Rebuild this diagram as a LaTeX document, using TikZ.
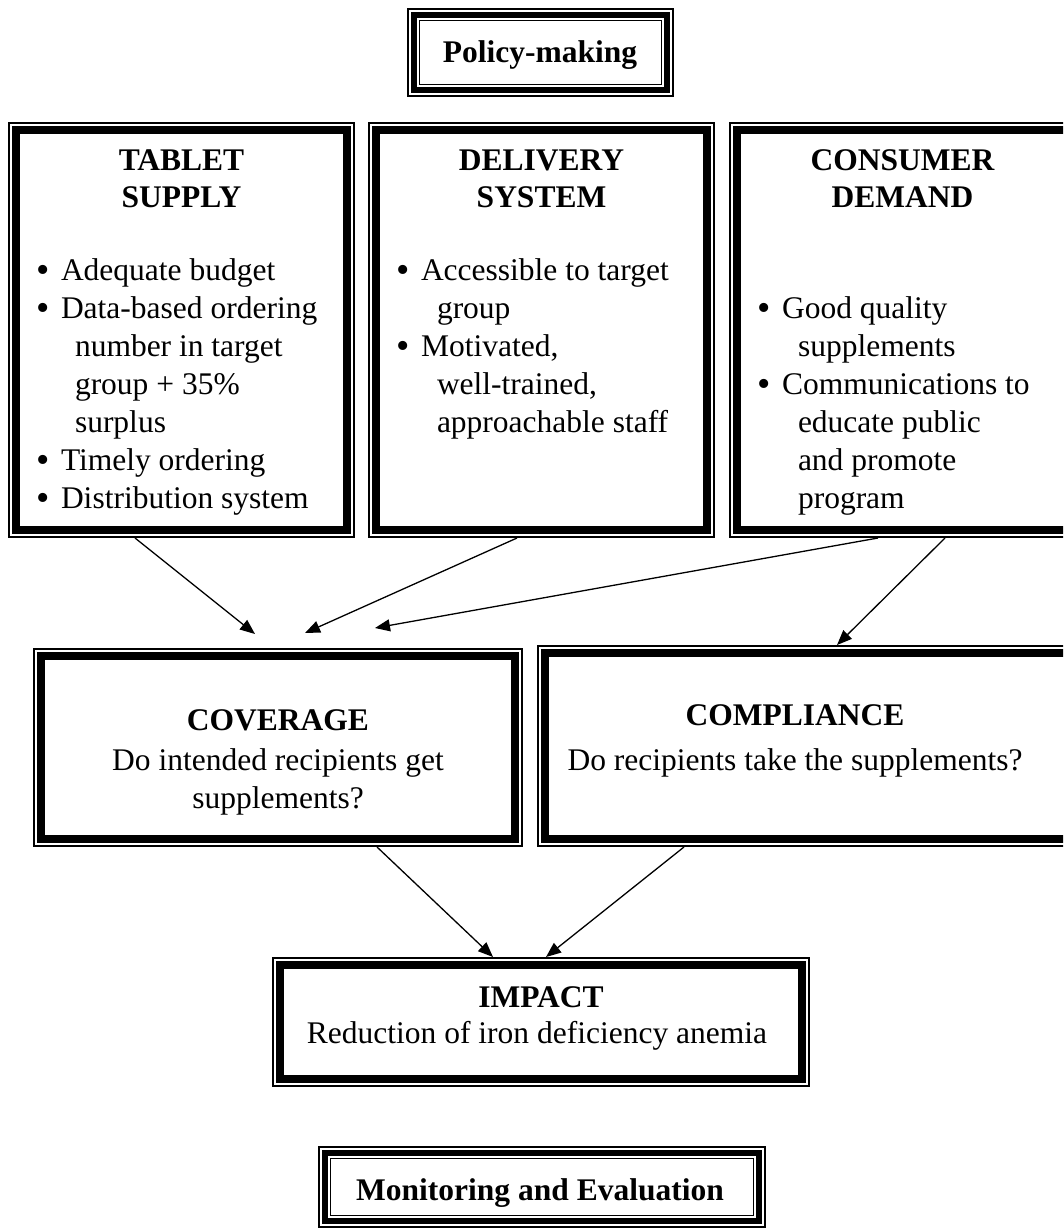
\documentclass[tikz,border=0pt]{standalone}
\usepackage{fontspec}
\setmainfont{Liberation Serif}
\usetikzlibrary{arrows.meta,calc}
\tikzset{
  txt/.style={inner sep=0pt, outer sep=0pt, font=\fontsize{31.5}{38}\selectfont},
  bld/.style={inner sep=0pt, outer sep=0pt, font=\fontsize{31.5}{38}\selectfont\bfseries},
  bul/.style={inner sep=0pt, outer sep=0pt, font=\fontsize{38}{38}\selectfont},
  conn/.style={line width=1.3pt, -{Triangle[length=15pt,width=12pt]}},
  frame/.style={inner sep=0pt, outer sep=0pt, anchor=north west},
}
% thin outer line + thick inner line
\newcommand{\thinthick}[5]{%
  \node[frame, minimum width={(#4-#2)*1pt}, minimum height={(#5-#3)*1pt}] (#1) at (#2,#3) {};
  \draw[line width=1.8pt] ([shift={(0.9,0.9)}]#1.north west) rectangle ([shift={(-0.9,-0.9)}]#1.south east);
  \draw[line width=8pt] ([shift={(8,8)}]#1.north west) rectangle ([shift={(-8,-8)}]#1.south east);
}
% thin, thick, thin
\newcommand{\triplebox}[5]{%
  \node[frame, minimum width={(#4-#2)*1pt}, minimum height={(#5-#3)*1pt}] (#1) at (#2,#3) {};
  \draw[line width=1.8pt] ([shift={(0.9,0.9)}]#1.north west) rectangle ([shift={(-0.9,-0.9)}]#1.south east);
  \draw[line width=5.5pt] ([shift={(6.8,6.8)}]#1.north west) rectangle ([shift={(-6.8,-6.8)}]#1.south east);
  \draw[line width=1.8pt] ([shift={(12.5,12.5)}]#1.north west) rectangle ([shift={(-12.5,-12.5)}]#1.south east);
}
\newcommand{\tline}[4]{\node[txt, anchor=base west] (#1) at (#2,#3) {#4};}
\newcommand{\bline}[3]{\node[bul, anchor=base west] (#1) at (#2,#3) {•};}
\newcommand{\ctext}[4]{\node[txt, anchor=base] (#1) at (#2,#3) {#4};}
\newcommand{\btext}[4]{\node[bld, anchor=base] (#1) at (#2,#3) {#4};}
\begin{document}
\begin{tikzpicture}[x=1pt,y=-1pt]
\useasboundingbox (0,0) rectangle (1063,1228);
\clip (0,0) rectangle (1063,1228);
\fill[white] (0,0) rectangle (1063,1228);

% Policy-making
\triplebox{policy}{407}{8}{674}{97}
\btext{policyT}{540}{63}{Policy-making}

% Tablet supply
\thinthick{tablet}{8}{122}{355}{538}
\btext{tabT1}{181.5}{170}{TABLET}
\btext{tabT2}{181.5}{207}{SUPPLY}
\bline{tabB1}{36}{282}\tline{tab1}{61}{280}{Adequate budget}
\bline{tabB2}{36}{320}\tline{tab2}{61}{318}{Data-based ordering}
\tline{tab3}{75}{356}{number in target}
\tline{tab4}{75}{394}{group + 35\%}
\tline{tab5}{75}{432}{surplus}
\bline{tabB6}{36}{472}\tline{tab6}{61}{470}{Timely ordering}
\bline{tabB7}{36}{510}\tline{tab7}{61}{508}{Distribution system}

% Delivery system
\thinthick{deliv}{368}{122}{715}{538}
\btext{delT1}{541.5}{170}{DELIVERY}
\btext{delT2}{541.5}{207}{SYSTEM}
\bline{delB1}{396}{282}\tline{del1}{421}{280}{Accessible to target}
\tline{del2}{437}{318}{group}
\bline{delB3}{396}{358}\tline{del3}{421}{356}{Motivated,}
\tline{del4}{437}{394}{well-trained,}
\tline{del5}{437}{432}{approachable staff}

% Consumer demand
\thinthick{consum}{729}{122}{1076}{538}
\btext{conT1}{902.5}{170}{CONSUMER}
\btext{conT2}{902.5}{207}{DEMAND}
\bline{conB1}{757}{320}\tline{con1}{782}{318}{Good quality}
\tline{con2}{798}{356}{supplements}
\bline{conB3}{757}{396}\tline{con3}{782}{394}{Communications to}
\tline{con4}{798}{432}{educate public}
\tline{con5}{798}{470}{and promote}
\tline{con6}{798}{508}{program}

% Coverage
\thinthick{cover}{33}{648}{523}{847}
\btext{covT}{278}{730}{COVERAGE}
\ctext{cov1}{278}{770}{Do intended recipients get}
\ctext{cov2}{278}{808}{supplements?}

% Compliance
\thinthick{compl}{537}{645}{1080}{847}
\btext{comT}{795}{725}{COMPLIANCE}
\ctext{com1}{795}{770}{Do recipients take the supplements?}

% Impact
\thinthick{impact}{272}{957}{810}{1087}
\btext{impT}{541}{1007}{IMPACT}
\ctext{imp1}{537}{1043}{Reduction of iron deficiency anemia}

% Monitoring and Evaluation
\triplebox{monit}{318}{1146}{766}{1228}
\btext{monT}{540}{1200}{Monitoring and Evaluation}

% connector ends
\coordinate (e1) at (255,634);
\coordinate (e2) at (305,633);
\coordinate (e3) at (375,628);
\draw[conn] ([xshift=127pt]tablet.south west) -- (e1);
\draw[conn] ([xshift=149pt]deliv.south west) -- (e2);
\draw[conn] ([xshift=149pt]consum.south west) -- (e3);
\draw[conn] ([xshift=216pt]consum.south west) -- ([xshift=300pt]compl.north west);
\draw[conn] ([xshift=344pt]cover.south west) -- ([xshift=221pt]impact.north west);
\draw[conn] ([xshift=147pt]compl.south west) -- ([xshift=274pt]impact.north west);
\end{tikzpicture}
\end{document}
